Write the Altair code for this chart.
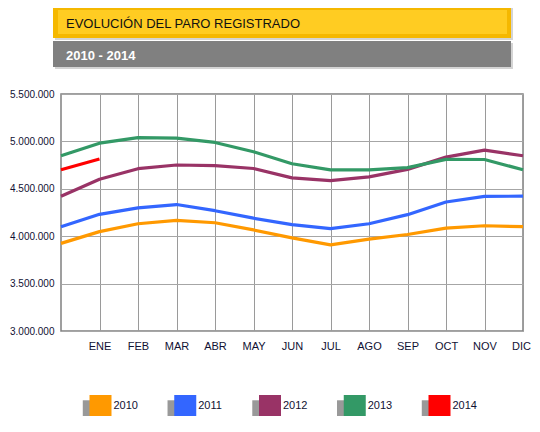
import json
import altair as alt
import pandas as pd

# ---------------- data ----------------
months = ["ENE", "FEB", "MAR", "ABR", "MAY", "JUN", "JUL", "AGO", "SEP", "OCT", "NOV", "DIC"]
years = ["2010", "2011", "2012", "2013", "2014"]
colors = ["#FF9900", "#3366FF", "#993366", "#339966", "#FF0000"]

# first value of every series = December of the previous year (left edge)
paro_2010 = [3924000, 4048000, 4131000, 4167000, 4142000, 4066000, 3982000, 3908000, 3970000, 4018000, 4086000, 4110000, 4100000]
paro_2011 = [4100000, 4231000, 4299000, 4334000, 4269000, 4190000, 4122000, 4080000, 4131000, 4227000, 4361000, 4420000, 4422000]
paro_2012 = [4422000, 4600000, 4712000, 4751000, 4744000, 4714000, 4615000, 4587000, 4626000, 4705000, 4834000, 4908000, 4849000]
paro_2013 = [4849000, 4981000, 5040000, 5035000, 4989000, 4891000, 4764000, 4699000, 4699000, 4724000, 4811000, 4809000, 4701000]
paro_2014 = [4701000, 4814000]

y_ticks = [3000000, 3500000, 4000000, 4500000, 5000000, 5500000]

title_text = "EVOLUCIÓN DEL PARO REGISTRADO"
subtitle_text = "2010 - 2014"

series = [paro_2010, paro_2011, paro_2012, paro_2013, paro_2014]
rows = []
for yr, s in zip(years, series):
    for i, v in enumerate(s):
        rows.append({"year": yr, "idx": i, "paro": v})
df = pd.DataFrame(rows)

FONT = "Liberation Sans, Arial, sans-serif"
W, H = 462, 237

x_label_expr = json.dumps([""] + months) + "[datum.value]"
y_label_expr = "replace(format(datum.value, ','), regexp(',', 'g'), '.')"

one = pd.DataFrame({"t": [title_text], "s": [subtitle_text]})

# ---------------- banner ----------------
def box(x1, x2, y1, y2, color):
    return alt.Chart(one).mark_rect(color=color).encode(
        x=alt.value(x1), x2=alt.value(x2), y=alt.value(y1), y2=alt.value(y2)
    )

title_shadow = box(-6, 452, -86, -54, "#d4d4d4")
title_outer = box(-8, 450, -88, -56, "#F5B800")
title_inner = box(-3, 446, -84, -60, "#FFCC22")
title_txt = alt.Chart(one).mark_text(
    align="left", baseline="alphabetic", fontSize=13, font=FONT, color="#111111"
).encode(x=alt.value(5), y=alt.value(-66.5), text="t:N")

sub_shadow = box(-6, 452, -51, -25, "#d4d4d4")
sub_box = box(-8, 450, -53, -27, "#808080")
sub_txt = alt.Chart(one).mark_text(
    align="left", baseline="alphabetic", fontSize=13, fontWeight="bold",
    font=FONT, color="#FFFFFF"
).encode(x=alt.value(5), y=alt.value(-34), text="s:N")

# ---------------- lines ----------------
lines = alt.Chart(df).mark_line(
    strokeWidth=3.2, interpolate="linear", strokeJoin="round", strokeCap="butt"
).encode(
    x=alt.X(
        "idx:Q",
        scale=alt.Scale(domain=[0, 12], nice=False),
        axis=alt.Axis(
            values=list(range(1, 13)), labelExpr=x_label_expr, grid=True,
            gridColor="#9a9a9a", ticks=False, domain=False, title=None,
            labelFontSize=11, labelFont=FONT, labelColor="#111133", labelPadding=9,
            labelFlush=False, labelOverlap=False,
            labelOffset={"condition": {"test": "datum.value == 12", "value": -2}, "value": 0},
        ),
    ),
    y=alt.Y(
        "paro:Q",
        scale=alt.Scale(domain=[3000000, 5500000], nice=False, zero=False),
        axis=alt.Axis(
            values=y_ticks, labelExpr=y_label_expr, grid=True,
            gridColor="#a6a6a6", ticks=False, domain=False, title=None,
            labelFontSize=10, labelFont=FONT, labelColor="#111133", labelPadding=7,
            labelFlush=False,
        ),
    ),
    color=alt.Color("year:N", scale=alt.Scale(domain=years, range=colors), legend=None),
    detail="year:N",
)

# ---------------- custom legend ----------------
leg_df = pd.DataFrame({"year": years})
leg_x = alt.X("year:N", scale=alt.Scale(domain=years, range=[39.5, 378.5], padding=0), axis=None)
leg_y = alt.value(312)

leg_shadow = alt.Chart(leg_df).mark_square(
    size=460, color="#999999", opacity=1, xOffset=-7, yOffset=5
).encode(x=leg_x, y=leg_y)
leg_sq = alt.Chart(leg_df).mark_square(size=484, opacity=1).encode(
    x=leg_x, y=leg_y,
    color=alt.Color("year:N", scale=alt.Scale(domain=years, range=colors), legend=None),
)
leg_txt = alt.Chart(leg_df).mark_text(
    align="left", baseline="middle", dx=13, fontSize=11, font=FONT, color="#111133"
).encode(x=leg_x, y=leg_y, text="year:N")

legend = alt.layer(leg_shadow, leg_sq, leg_txt)

chart = alt.layer(
    title_shadow, title_outer, title_inner, title_txt,
    sub_shadow, sub_box, sub_txt,
    lines, legend,
).resolve_scale(x="independent").properties(
    width=W, height=H,
    padding={"left": 53, "top": 86, "right": 9, "bottom": 85},
    autosize="none",
    background="#FFFFFF",
).configure_view(stroke="#808080", strokeWidth=1.5)

chart.save("out.html", embed_options={"renderer": "svg", "actions": False})
